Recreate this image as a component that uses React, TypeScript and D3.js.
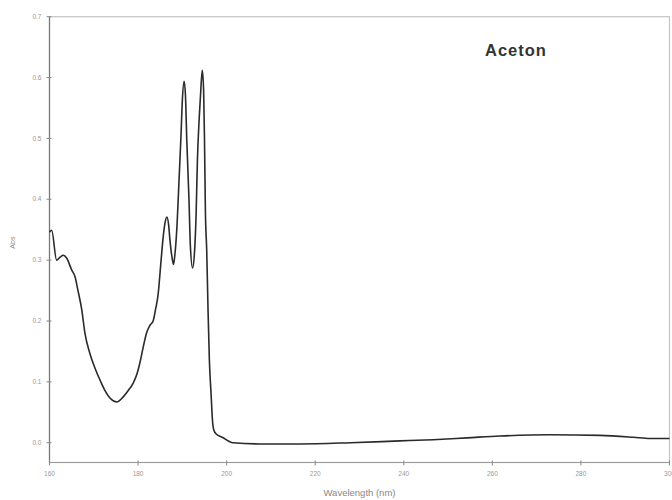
import React from "react";
import * as d3 from "d3";

const wavelength = [
  160.0, 160.5, 161.6, 162.4, 163.1, 163.9, 165.0, 165.8, 166.4, 167.3, 168.0, 169.1, 170.3, 171.4, 172.5, 173.7,
  175.2, 176.6, 177.7, 178.9, 179.8, 180.4, 181.1, 181.9, 182.7, 183.4, 184.0, 184.5, 185.2, 185.6, 186.1, 186.5,
  186.9, 187.2, 187.7, 188.0, 188.3, 188.8, 189.2, 189.7, 190.0, 190.4, 190.7, 191.0, 191.5, 191.8, 192.3, 192.7,
  193.1, 193.4, 193.8, 194.1, 194.5, 194.8, 195.0, 195.2, 195.5, 195.8, 196.1, 196.5, 196.8, 197.1, 197.7, 199.0,
  201.4, 207.5, 216.6, 227.9, 239.1, 246.6, 254.3, 261.7, 273.0, 284.3, 291.8, 295.6, 300.0,
];
const absorbance = [
  0.346, 0.349, 0.300, 0.305, 0.308, 0.303, 0.284, 0.272, 0.251, 0.218, 0.180, 0.147, 0.122, 0.103, 0.086, 0.073,
  0.067, 0.075, 0.085, 0.098, 0.114, 0.131, 0.155, 0.180, 0.193, 0.200, 0.221, 0.242, 0.300, 0.333, 0.362, 0.371,
  0.358, 0.333, 0.303, 0.293, 0.308, 0.358, 0.423, 0.506, 0.563, 0.594, 0.571, 0.497, 0.399, 0.325, 0.287, 0.308,
  0.374, 0.464, 0.533, 0.571, 0.612, 0.579, 0.497, 0.382, 0.316, 0.218, 0.136, 0.078, 0.037, 0.021, 0.014, 0.009,
  0.0, -0.002, -0.002, 0.0, 0.003, 0.005, 0.008, 0.011, 0.013, 0.012, 0.009, 0.007, 0.007,
];
const xTicks = [160, 180, 200, 220, 240, 260, 280, 300];
const yTicks = [0.0, 0.1, 0.2, 0.3, 0.4, 0.5, 0.6, 0.7];

export default function App() {
  const W = 672, H = 500;
  const left = 49.5, right = 669.5, top = 16.7, bottom = 462.5;
  const x = d3.scaleLinear().domain([160, 300]).range([left, right]);
  const y = d3.scaleLinear().domain([-0.0325, 0.7]).range([bottom, top]);
  const pts: [number, number][] = wavelength.map((w, i) => [w, absorbance[i]]);
  const line = d3.line<[number, number]>().x(d => x(d[0])).y(d => y(d[1])).curve(d3.curveMonotoneX);
  const font = "Liberation Sans, Arial, sans-serif";
  return (
    <svg width={W} height={H} style={{ position: "absolute", left: 0, top: 0, background: "#fff" }}>
      <rect x={left} y={top} width={right - left} height={bottom - top} fill="none" stroke="#c4c4c4" strokeWidth={1.2} />
      <line x1={left} x2={left} y1={top} y2={bottom} stroke="#777" strokeWidth={1.2} />
      <line x1={left} x2={right} y1={bottom} y2={bottom} stroke="#999" strokeWidth={1.2} />
      {yTicks.map(t => (
        <g key={"y" + t}>
          <line x1={left - 3} x2={left + 2} y1={y(t)} y2={y(t)} stroke="#888" strokeWidth={1} />
          <text x={left - 8} y={y(t) + 2.2} fontSize={6.5} fill="#999" textAnchor="end" fontFamily={font}>{t.toFixed(1)}</text>
        </g>
      ))}
      {xTicks.map(t => (
        <g key={"x" + t}>
          <line x1={x(t)} x2={x(t)} y1={bottom - 2} y2={bottom + 3} stroke="#888" strokeWidth={1} />
          <text x={x(t)} y={bottom + 13} fontSize={6.5} fill="#999" textAnchor="middle" fontFamily={font}>{t}</text>
        </g>
      ))}
      <path d={line(pts) || ""} fill="none" stroke="#2a2a2a" strokeWidth={1.6} strokeLinejoin="round" />
      <text x={(left + right) / 2} y={496} fontSize={9.5} fill="#888" textAnchor="middle" fontFamily={font}>Wavelength (nm)</text>
      <text transform={`translate(15, ${(top + bottom) / 2 + 3}) rotate(-90)`} fontSize={7} fill="#888" textAnchor="middle" fontFamily={font}>Abs</text>
      <text x={485} y={56} fontSize={16.5} fontWeight="bold" fill="#333" letterSpacing={1} fontFamily={font}>Aceton</text>
    </svg>
  );
}
